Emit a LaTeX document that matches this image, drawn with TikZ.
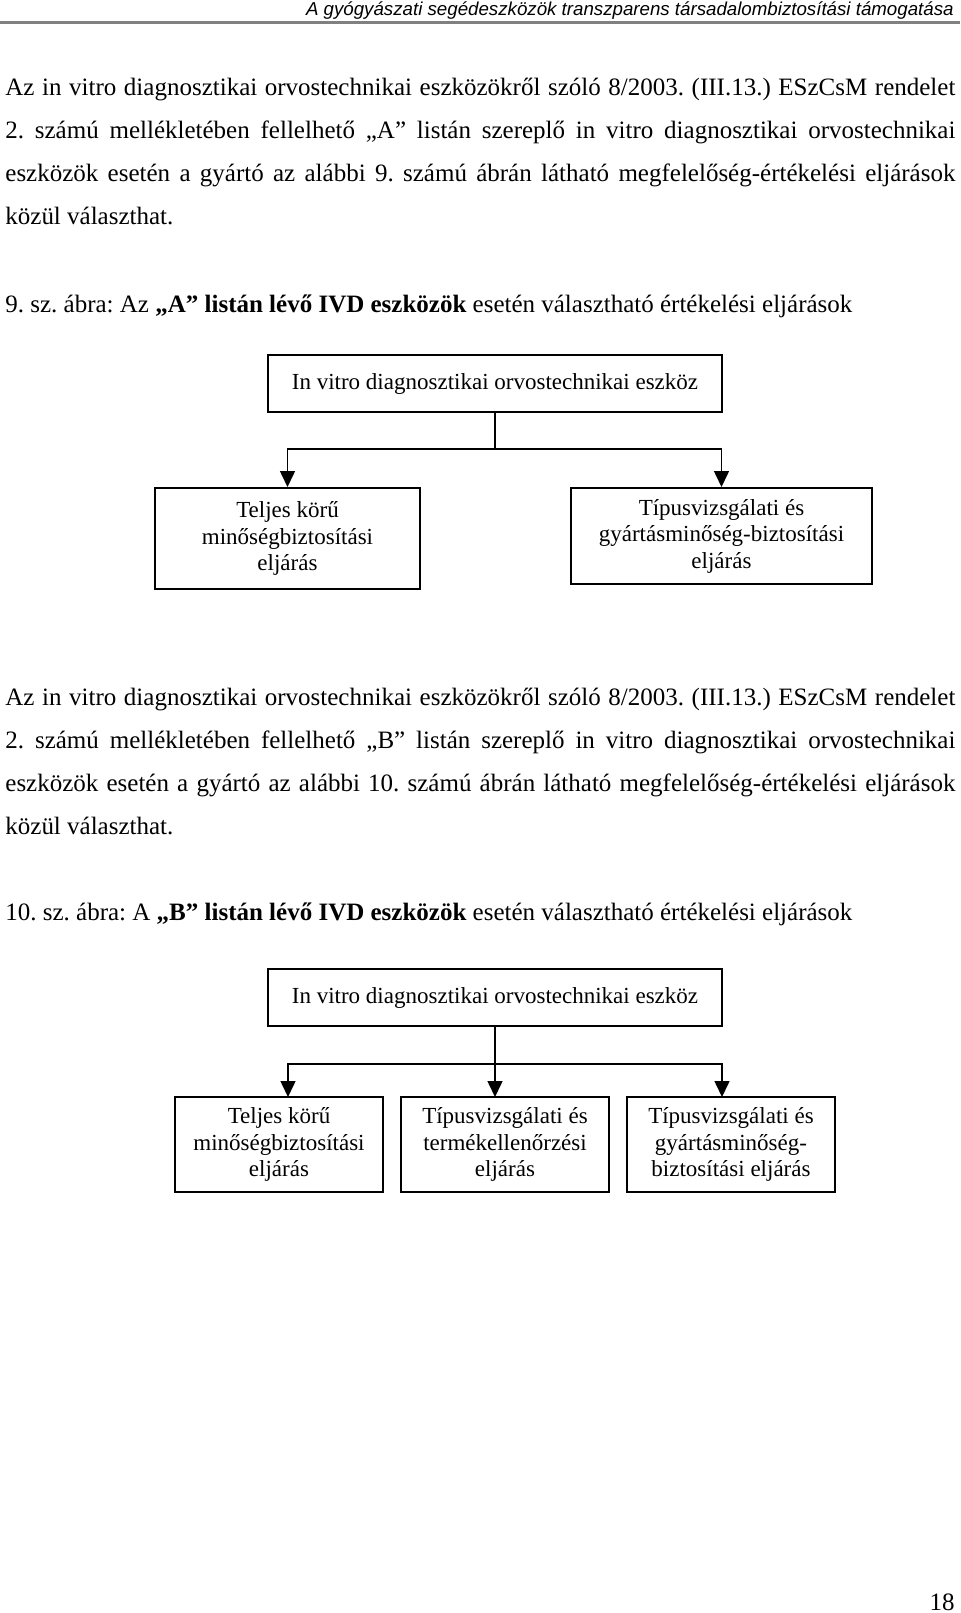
\documentclass[tikz,border=0pt]{standalone}
\usepackage{fontspec}
\setmainfont{Liberation Serif}
\newfontfamily\hdrfont{Liberation Sans}
\usetikzlibrary{arrows.meta}
\frenchspacing
\newcommand{\jline}[1]{\hbox to 475pt{#1}}
\tikzset{
  body/.style={anchor=base west, inner sep=0pt, font=\fontsize{12.5}{15}\selectfont},
  bx/.style={draw, line width=1pt, inner sep=0pt, align=center, font=\fontsize{11.5}{13.25}\selectfont},
  conn/.style={line width=0.75pt},
  arr/.style={conn, -{Triangle[width=7.5pt,length=8pt]}},
}
\begin{document}
\begin{tikzpicture}[x=0.5pt,y=-0.5pt]
\useasboundingbox (0,0) rectangle (960,1613);
% header
\node[anchor=base east, inner sep=0pt, font=\hdrfont\itshape\fontsize{9.35}{11}\selectfont] (hdr) at (954,15) {A gyógyászati segédeszközök transzparens társadalombiztosítási támogatása};
\draw[color=black!50, line width=1.5pt] (0,22.5) -- (960,22.5);
% paragraph 1
\node[body] (p1a) at (5,95) {\jline{Az in vitro diagnosztikai orvostechnikai eszközökről szóló 8/2003. (III.13.) ESzCsM rendelet}};
\node[body] (p1b) at (5,138) {\jline{2. számú mellékletében fellelhető „A” listán szereplő in vitro diagnosztikai orvostechnikai}};
\node[body] (p1c) at (5,181) {\jline{eszközök esetén a gyártó az alábbi 9. számú ábrán látható megfelelőség-értékelési eljárások}};
\node[body] (p1d) at (5,224) {közül választhat.};
\node[body] (cap1) at (5,312) {9. sz. ábra: Az \textbf{„A” listán lévő IVD eszközök} esetén választható értékelési eljárások};
% diagram 1
\node[bx, minimum width=226.75pt, minimum height=28.5pt] (t1) at (495,383.5) {In vitro diagnosztikai orvostechnikai eszköz};
\node[bx, minimum width=132.5pt, minimum height=50.5pt] (l1) at (287.5,538.5) {Teljes körű\\minőségbiztosítási\\eljárás};
\node[bx, minimum width=150.5pt, minimum height=48pt] (r1) at (721.5,536) {Típusvizsgálati és\\gyártásminőség-biztosítási\\eljárás};
\coordinate (j1) at (495,449);
\draw[conn] (t1.south) -- (j1);
\draw[arr] (j1) -| (l1.north);
\draw[arr] (j1) -| (r1.north);
% paragraph 2
\node[body] (p2a) at (5,705) {\jline{Az in vitro diagnosztikai orvostechnikai eszközökről szóló 8/2003. (III.13.) ESzCsM rendelet}};
\node[body] (p2b) at (5,748) {\jline{2. számú mellékletében fellelhető „B” listán szereplő in vitro diagnosztikai orvostechnikai}};
\node[body] (p2c) at (5,791) {\jline{eszközök esetén a gyártó az alábbi 10. számú ábrán látható megfelelőség-értékelési eljárások}};
\node[body] (p2d) at (5,834) {közül választhat.};
\node[body] (cap2) at (5,920) {10. sz. ábra: A \textbf{„B” listán lévő IVD eszközök} esetén választható értékelési eljárások};
% diagram 2
\node[bx, minimum width=226.75pt, minimum height=28.5pt] (t2) at (495,997.5) {In vitro diagnosztikai orvostechnikai eszköz};
\node[bx, minimum width=104pt, minimum height=47.5pt] (l2) at (279,1144.5) {Teljes körű\\minőségbiztosítási\\eljárás};
\node[bx, minimum width=104pt, minimum height=47.5pt] (m2) at (505,1144.5) {Típusvizsgálati és\\termékellenőrzési\\eljárás};
\node[bx, minimum width=104pt, minimum height=47.5pt] (r2) at (731,1144.5) {Típusvizsgálati és\\gyártásminőség-\\biztosítási eljárás};
\coordinate (j2) at (495,1064);
\coordinate (a2l) at (288,1097);
\coordinate (a2m) at (495,1097);
\coordinate (a2r) at (722,1097);
\draw[conn] (t2.south) -- (j2);
\draw[arr] (j2) -| (a2l);
\draw[arr] (j2) -- (a2m);
\draw[arr] (j2) -| (a2r);
% page number
\node[anchor=base east, inner sep=0pt, font=\fontsize{12.5}{15}\selectfont] (pg) at (955,1610) {18};
\end{tikzpicture}
\end{document}
